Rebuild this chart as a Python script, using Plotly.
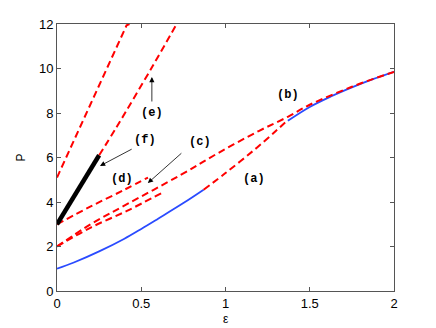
import plotly.graph_objects as go

# branch data (eps, P)
blue_low_eps = [0, 0.1, 0.25, 0.4, 0.5, 0.6, 0.75, 0.87]
blue_low_p = [1.0, 1.28, 1.78, 2.35, 2.79, 3.25, 3.95, 4.55]

blue_high_eps = [1.37, 1.5, 1.625, 1.75, 1.875, 2.0]
blue_high_p = [7.65, 8.27, 8.74, 9.15, 9.52, 9.85]

a_eps = [0.87, 1.0, 1.17, 1.3, 1.37]
a_p = [4.55, 5.3, 6.34, 7.2, 7.69]

c_eps = [0, 0.2, 0.415, 0.73, 0.954, 1.2, 1.37, 1.5, 1.75, 2.0]
c_p = [2.0, 3.0, 3.9, 5.2, 6.19, 7.2, 7.83, 8.37, 9.18, 9.85]

c2_eps = [0, 0.2, 0.415, 0.62]
c2_p = [2.0, 2.85, 3.6, 4.4]

d_eps = [0, 0.2, 0.4, 0.54]
d_p = [3.0, 3.8, 4.55, 5.1]

e1_eps = [0, 0.136, 0.413, 0.43]
e1_p = [5.1, 7.37, 11.94, 12.0]

e2_eps = [0.25, 0.354, 0.567, 0.71]
e2_p = [6.1, 7.37, 10.1, 12.0]

f_eps = [0, 0.25]
f_p = [3.0, 6.1]

labels = ["(a)", "(b)", "(c)", "(d)", "(e)", "(f)"]
label_eps = [1.167, 1.369, 0.847, 0.383, 0.561, 0.521]
label_p = [5.03, 8.81, 6.71, 5.03, 7.99, 6.79]

RED = "#ff0000"
BLUE = "#2a4bff"
dash = "7px,4px"

fig = go.Figure()


def add(x, y, color, width, dashed, shape="spline"):
    fig.add_trace(go.Scatter(
        x=x, y=y, mode="lines", line_shape=shape,
        line=dict(color=color, width=width, dash=dash if dashed else "solid"),
        showlegend=False, hoverinfo="skip"))


add(blue_low_eps, blue_low_p, BLUE, 1.8, False)
add(blue_high_eps, blue_high_p, BLUE, 1.8, False)
add(a_eps, a_p, RED, 2, True)
add(c_eps, c_p, RED, 2, True)
add(c2_eps, c2_p, RED, 2, True)
add(d_eps, d_p, RED, 2, True)
add(e1_eps, e1_p, RED, 2, True, "linear")
add(e2_eps, e2_p, RED, 2, True)
add(f_eps, f_p, "black", 4.5, False, "linear")

for t, x, y in zip(labels, label_eps, label_p):
    fig.add_annotation(x=x, y=y, text="<b>" + t + "</b>", showarrow=False,
                       font=dict(family="Liberation Mono", size=12, color="black"))

# arrows: tip (x, y), tail (ax, ay)
arrows = [(0.539, 4.85, 0.747, 6.25), (0.563, 9.62, 0.563, 8.45), (0.255, 5.62, 0.452, 6.41)]
for x, y, ax, ay in arrows:
    fig.add_annotation(x=x, y=y, ax=ax, ay=ay, xref="x", yref="y", axref="x", ayref="y",
                       text="", showarrow=True, arrowhead=2, arrowsize=1.3,
                       arrowwidth=0.8, arrowcolor="black")

# axis titles placed by hand
fig.add_annotation(x=0.5, y=0, xref="paper", yref="paper", yshift=-37, text="ε",
                   showarrow=False, font=dict(family="Liberation Sans", size=12, color="black"))
fig.add_annotation(x=0, y=0.5, xref="paper", yref="paper", xshift=-46, text="P", textangle=-90,
                   showarrow=False, font=dict(family="Liberation Sans", size=12, color="black"))

axis = dict(showline=True, mirror="ticks", linecolor="#555555", linewidth=1,
            ticks="inside", ticklen=4, tickcolor="#555555", showgrid=False,
            zeroline=False, automargin=False,
            tickfont=dict(family="Liberation Sans", size=13, color="black"))

fig.update_xaxes(range=[0, 2], tickvals=[0, 0.5, 1, 1.5, 2], ticktext=["0", "0.5", "1", "1.5", "2"], **axis)
fig.update_yaxes(range=[0, 12], tickvals=[0, 2, 4, 6, 8, 10, 12], **axis)

# page body has an 8px margin, so the figure is a bit smaller than the window
fig.update_layout(width=428, height=320, margin=dict(l=49, r=42, t=16, b=37),
                  plot_bgcolor="white", paper_bgcolor="white")

fig.write_html("out.html")
